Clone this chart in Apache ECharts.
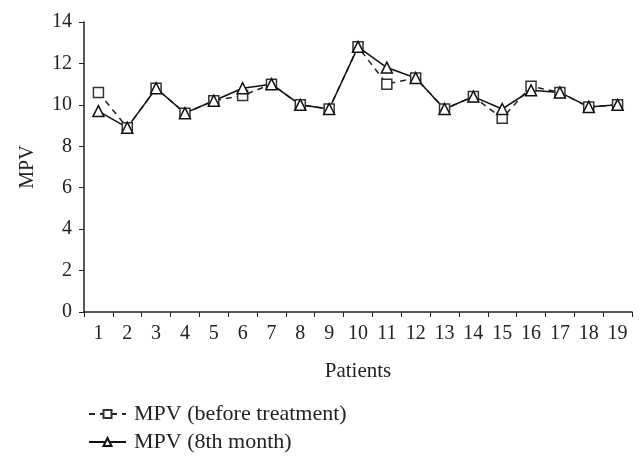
<!DOCTYPE html>
<html>
<head>
<meta charset="utf-8">
<script src="https://cdn.jsdelivr.net/npm/echarts@6/dist/echarts.min.js"></script>
<style>html,body{margin:0;padding:0;background:#fff}#c{width:643px;height:464px}</style>
</head>
<body>
<div id="c"></div>
<script>
const patients = ['1','2','3','4','5','6','7','8','9','10','11','12','13','14','15','16','17','18','19'];
const mpvBefore = [10.6, 8.9, 10.8, 9.6, 10.2, 10.45, 11.0, 10.0, 9.8, 12.8, 11.0, 11.3, 9.8, 10.4, 9.35, 10.9, 10.6, 9.9, 10.0];
const mpv8th = [9.7, 8.9, 10.8, 9.6, 10.2, 10.8, 11.0, 10.0, 9.8, 12.8, 11.8, 11.3, 9.8, 10.4, 9.8, 10.7, 10.6, 9.9, 10.0];
const yTicks = [0, 2, 4, 6, 8, 10, 12, 14];

const font = 'Liberation Serif';
const chart = echarts.init(document.getElementById('c'));
chart.setOption({
  animation: false,
  backgroundColor: '#fff',
  grid: {left: 84, right: 11, top: 22, bottom: 152, outerBoundsMode: 'none', containLabel: false},
  legend: {
    orient: 'vertical', left: 83, top: 398, itemWidth: 37, itemHeight: 10, itemGap: 6,
    textStyle: {fontFamily: font, fontSize: 22, color: '#222', padding: [0, 0, 0, 3]},
    data: ['MPV (before treatment)', 'MPV (8th month)']
  },
  xAxis: {
    type: 'category', data: patients, boundaryGap: true,
    name: 'Patients', nameLocation: 'middle', nameGap: 49,
    nameTextStyle: {fontFamily: font, fontSize: 21, color: '#222'},
    axisLine: {lineStyle: {color: '#222', width: 1.5}},
    axisTick: {show: true, length: 5, alignWithLabel: false, lineStyle: {color: '#222'}},
    axisLabel: {fontFamily: font, fontSize: 20, color: '#222', margin: 12}
  },
  yAxis: {
    type: 'value', min: 0, max: 14, interval: 2,
    name: 'MPV', nameLocation: 'middle', nameGap: 46,
    nameTextStyle: {fontFamily: font, fontSize: 20, color: '#222'},
    axisLine: {show: true, lineStyle: {color: '#222', width: 1.5}},
    axisTick: {show: true, length: 5, lineStyle: {color: '#222'}},
    splitLine: {show: false},
    axisLabel: {fontFamily: font, fontSize: 20, color: '#222', margin: 12,
      formatter: v => yTicks.includes(v) ? String(v) : ''}
  },
  series: [
    {
      name: 'MPV (before treatment)', type: 'line', data: mpvBefore,
      symbol: 'rect', symbolSize: 10,
      lineStyle: {color: '#222', width: 1.5, type: [6, 5]},
      itemStyle: {color: '#fff', borderColor: '#333', borderWidth: 1.5}
    },
    {
      name: 'MPV (8th month)', type: 'line', data: mpv8th,
      symbol: 'triangle', symbolSize: 11,
      lineStyle: {color: '#111', width: 1.5},
      itemStyle: {color: '#fff', borderColor: '#111', borderWidth: 1.5}
    }
  ]
});
</script>
</body>
</html>
